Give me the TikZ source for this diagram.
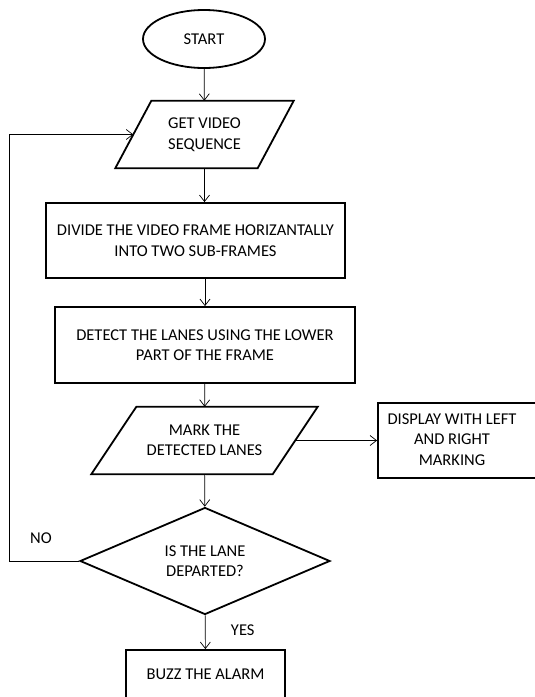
\documentclass[tikz,border=0pt]{standalone}
\usepackage{fontspec}
\setmainfont{Carlito}
\usetikzlibrary{shapes.geometric,arrows.meta}

\begin{document}
\begin{tikzpicture}[x=1pt, y=-1pt, font=\fontsize{16.5}{20.5}\selectfont,
    box/.style={draw, line width=1.8pt, inner sep=0pt, align=center},
    io/.style={inner sep=0pt, align=center, minimum height=67},
    outline/.style={line width=1.8pt, line join=miter},
    flow/.style={-{Straight Barb[length=6.5pt,width=10pt]}, line width=0.7pt}]
    \clip (0,0) rectangle (535,697);
    \node [box, ellipse, minimum width=122, minimum height=58] (start) at (204,39) {START};
    \node [io, minimum width=142] (get) at (204.5,134.5) {GET VIDEO\\SEQUENCE};
    \node [box, minimum width=299, minimum height=75] (divide) at (195.5,240.5) {DIVIDE THE VIDEO FRAME HORIZANTALLY\\INTO TWO SUB-FRAMES};
    \node [box, minimum width=300, minimum height=76] (detect) at (205,345) {DETECT THE LANES USING THE LOWER\\PART OF THE FRAME};
    \node [io, minimum width=181] (mark) at (204.5,440.5) {MARK THE\\DETECTED LANES};
    \node [box, minimum width=162, minimum height=75] (display) at (459,440.5) {\begin{tabular}{@{}c@{}}DISPLAY WITH LEFT\\AND RIGHT\\MARKING\end{tabular}\hspace*{14pt}};
    \node [box, diamond, aspect=2.3, minimum width=250, minimum height=107] (dec) at (205,561) {IS THE LANE\\DEPARTED?};
    \node [box, minimum width=159, minimum height=48] (buzz) at (205.5,674) {BUZZ THE ALARM};
    % slanted input/output boxes
    \foreach \n/\e in {get/18, mark/22.5}
      \draw [outline] ([xshift=-\e]\n.south west) -- ([xshift=\e]\n.north west)
        -- ([xshift=\e]\n.north east) -- ([xshift=-\e]\n.south east) -- cycle;
    \coordinate (loop) at (9,0);
    % connectors
    \draw [flow] (start) -- (get);
    \draw [flow] (get.south) -- (get.south |- divide.north);
    \draw [flow] (detect.north |- divide.south) -- (detect.north);
    \draw [flow] (detect) -- (mark);
    \draw [flow] (mark.east) -- (display.west);
    \draw [flow] (mark) -- (dec);
    \draw [flow] (dec) -- node [right=22pt, pos=0.45] (yes) {YES} (buzz);
    \draw [flow] (dec.west) -- (dec.west -| loop) |- (get.west);
    \node (no) at (41,538) {NO};
\end{tikzpicture}
\end{document}
